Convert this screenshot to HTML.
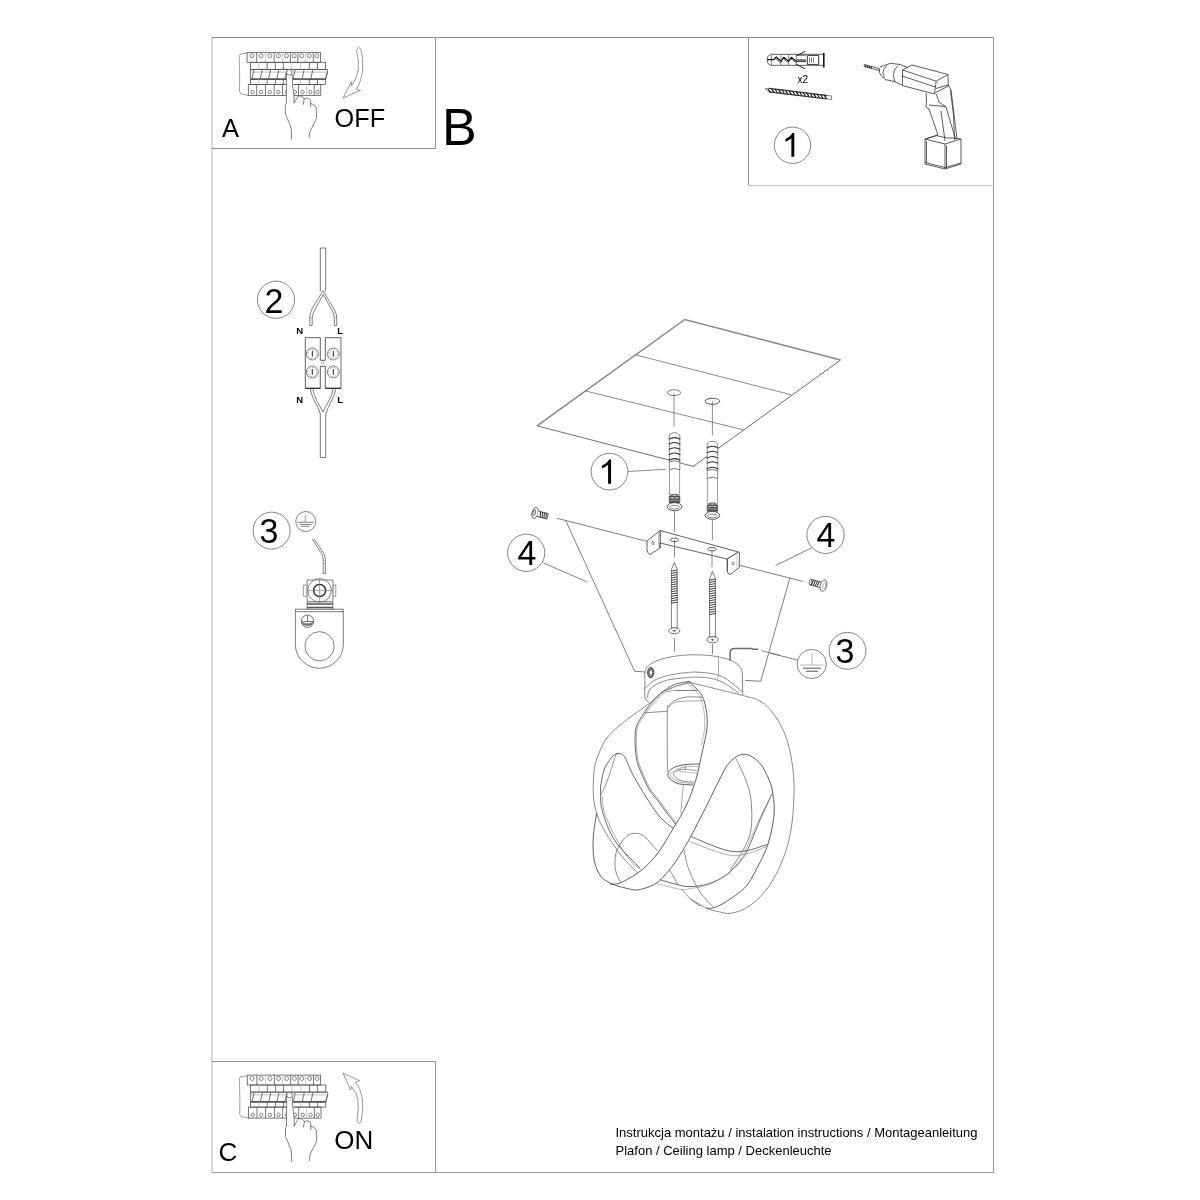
<!DOCTYPE html>
<html><head><meta charset="utf-8">
<style>
html,body{margin:0;padding:0;background:#fff;width:1200px;height:1200px;overflow:hidden}
svg{display:block;position:absolute;left:0;top:0;will-change:transform}
text{font-family:"Liberation Sans",sans-serif;fill:#000}
</style></head><body>
<svg width="1200" height="1200" viewBox="0 0 1200 1200">
<!-- frame -->
<g shape-rendering="crispEdges">
<rect x="211" y="37" width="2" height="1136" fill="#d9d9d9"/>
<rect x="212" y="37" width="782" height="1" fill="#8c8c8c"/>
<rect x="993" y="37" width="1" height="1136" fill="#9a9a9a"/>
<rect x="212" y="1172" width="782" height="1" fill="#9a9a9a"/>
<rect x="212" y="148" width="224" height="1" fill="#8c8c8c"/>
<rect x="435" y="37" width="1" height="112" fill="#9a9a9a"/>
<rect x="748" y="37" width="1" height="149" fill="#8c8c8c"/>
<rect x="748" y="185" width="246" height="1" fill="#c4c4c4"/>
<rect x="212" y="1061" width="224" height="1" fill="#909090"/>
<rect x="435" y="1061" width="1" height="112" fill="#9a9a9a"/>
</g>

<!-- text -->
<text x="222" y="136.7" font-size="25.5">A</text>
<text x="334.6" y="126.7" font-size="26.5" textLength="50.5" lengthAdjust="spacingAndGlyphs">OFF</text>
<text x="442" y="145" font-size="52">B</text>
<text x="218.6" y="1161.4" font-size="26">C</text>
<text x="334.3" y="1149.3" font-size="26">ON</text>
<text x="615.5" y="1137.1" font-size="13">Instrukcja montażu / instalation instructions / Montageanleitung</text>
<text x="615.5" y="1154.6" font-size="13">Plafon / Ceiling lamp / Deckenleuchte</text>
<text x="797.5" y="82.7" font-size="10">x2</text>
<g fill="none" stroke="#777" stroke-width="0.9">
<circle cx="792.5" cy="145.25" r="18.2"/>
<circle cx="609.5" cy="471.6" r="18.4"/>
<circle cx="526.2" cy="552.8" r="18.6"/>
<circle cx="825.5" cy="534.9" r="18.6"/>
<circle cx="847.5" cy="650.8" r="18.4"/>
<circle cx="276" cy="299.7" r="18.6"/>
<circle cx="271.6" cy="530.6" r="18.5"/>
</g>
<path transform="translate(782,156.75) scale(0.033,-0.033)" d="M372,0 L284,0 L284,560 Q252,530 200,500 Q148,470 106,454 L106,539 Q181,574 237,624 Q293,674 316,721 L372,721 Z"/>
<path transform="translate(598.5,483.75) scale(0.0338,-0.0338)" d="M372,0 L284,0 L284,560 Q252,530 200,500 Q148,470 106,454 L106,539 Q181,574 237,624 Q293,674 316,721 L372,721 Z"/>
<g font-size="34">
<text transform="translate(517.6,565) scale(1,1.055)">4</text>
<text transform="translate(816.6,547) scale(1,1.055)">4</text>
<text transform="translate(835.6,663.2) scale(1,1.055)">3</text>
<text transform="translate(264.6,312.5) scale(1,1.055)">2</text>
<text transform="translate(259.5,542.75) scale(1,1.055)">3</text>
</g>

<!-- breaker -->
<g id="brk"><path d="M247,53.2 L240,54.2 L239.2,55.5 L239.7,77 L239.5,91.5 L241,94 L248.3,95.4" stroke="#777" stroke-width="0.7" fill="none"/>
<rect x="247.1" y="52.4" width="73.3" height="9.9" fill="#fff" stroke="#555" stroke-width="0.8"/>
<line x1="256.70" y1="52.40" x2="256.70" y2="62.30" stroke="#555" stroke-width="0.8"/>
<line x1="265.40" y1="52.40" x2="265.40" y2="62.30" stroke="#bbb" stroke-width="0.8"/>
<line x1="274.20" y1="52.40" x2="274.20" y2="62.30" stroke="#555" stroke-width="0.8"/>
<line x1="282.50" y1="52.40" x2="282.50" y2="62.30" stroke="#bbb" stroke-width="0.8"/>
<line x1="290.40" y1="52.40" x2="290.40" y2="62.30" stroke="#555" stroke-width="0.8"/>
<line x1="297.90" y1="52.40" x2="297.90" y2="62.30" stroke="#555" stroke-width="0.8"/>
<line x1="305.40" y1="52.40" x2="305.40" y2="62.30" stroke="#bbb" stroke-width="0.8"/>
<line x1="313.30" y1="52.40" x2="313.30" y2="62.30" stroke="#555" stroke-width="0.8"/>
<circle cx="251.90" cy="55.80" r="2.0" stroke="#555" stroke-width="0.7" fill="none"/>
<circle cx="261.05" cy="55.80" r="2.0" stroke="#555" stroke-width="0.7" fill="none"/>
<circle cx="269.80" cy="55.80" r="2.0" stroke="#555" stroke-width="0.7" fill="none"/>
<circle cx="278.35" cy="55.80" r="2.0" stroke="#555" stroke-width="0.7" fill="none"/>
<circle cx="286.45" cy="55.80" r="2.0" stroke="#555" stroke-width="0.7" fill="none"/>
<circle cx="294.15" cy="55.80" r="2.0" stroke="#555" stroke-width="0.7" fill="none"/>
<circle cx="301.65" cy="55.80" r="2.0" stroke="#555" stroke-width="0.7" fill="none"/>
<circle cx="309.35" cy="55.80" r="2.0" stroke="#555" stroke-width="0.7" fill="none"/>
<circle cx="316.85" cy="55.80" r="2.0" stroke="#555" stroke-width="0.7" fill="none"/>
<rect x="250.4" y="62.3" width="75.2" height="7.1" fill="none" stroke="#555" stroke-width="0.8"/>
<line x1="258.75" y1="62.30" x2="258.75" y2="69.40" stroke="#bbb" stroke-width="0.8"/>
<line x1="267.10" y1="62.30" x2="267.10" y2="69.40" stroke="#555" stroke-width="0.8"/>
<line x1="275.40" y1="62.30" x2="275.40" y2="69.40" stroke="#555" stroke-width="0.8"/>
<line x1="283.30" y1="62.30" x2="283.30" y2="69.40" stroke="#555" stroke-width="0.8"/>
<line x1="291.70" y1="62.30" x2="291.70" y2="69.40" stroke="#bbb" stroke-width="0.8"/>
<line x1="300.60" y1="62.30" x2="300.60" y2="69.40" stroke="#bbb" stroke-width="0.8"/>
<line x1="309.30" y1="62.30" x2="309.30" y2="69.40" stroke="#555" stroke-width="0.8"/>
<line x1="317.50" y1="62.30" x2="317.50" y2="69.40" stroke="#555" stroke-width="0.8"/>
<path d="M250.4,69.4 L327.5,69.4 L327.5,72 L325.6,79.2 L250.4,79.2 Z" stroke="#555" stroke-width="0.8" fill="none"/>
<line x1="251.00" y1="72.10" x2="327.00" y2="72.10" stroke="#ccc" stroke-width="1.2"/>
<line x1="250.40" y1="79.20" x2="325.60" y2="79.20" stroke="#444" stroke-width="1.2"/>
<line x1="253.90" y1="69.80" x2="251.90" y2="78.60" stroke="#555" stroke-width="0.8"/>
<line x1="262.25" y1="69.80" x2="260.25" y2="78.60" stroke="#555" stroke-width="0.8"/>
<line x1="270.60" y1="69.80" x2="268.60" y2="78.60" stroke="#555" stroke-width="0.8"/>
<line x1="278.90" y1="69.80" x2="276.90" y2="78.60" stroke="#555" stroke-width="0.8"/>
<line x1="286.80" y1="69.80" x2="284.80" y2="78.60" stroke="#555" stroke-width="0.8"/>
<line x1="295.20" y1="69.80" x2="293.20" y2="78.60" stroke="#555" stroke-width="0.8"/>
<line x1="304.10" y1="69.80" x2="302.10" y2="78.60" stroke="#555" stroke-width="0.8"/>
<line x1="312.80" y1="69.80" x2="310.80" y2="78.60" stroke="#555" stroke-width="0.8"/>
<line x1="327.50" y1="72.00" x2="325.60" y2="78.60" stroke="#555" stroke-width="0.8"/>
<rect x="250.4" y="79.2" width="75.2" height="5.2" fill="none" stroke="#555" stroke-width="0.8"/>
<line x1="258.75" y1="79.20" x2="258.75" y2="84.40" stroke="#bbb" stroke-width="0.8"/>
<line x1="267.10" y1="79.20" x2="267.10" y2="84.40" stroke="#555" stroke-width="0.8"/>
<line x1="275.40" y1="79.20" x2="275.40" y2="84.40" stroke="#555" stroke-width="0.8"/>
<line x1="283.30" y1="79.20" x2="283.30" y2="84.40" stroke="#555" stroke-width="0.8"/>
<line x1="291.70" y1="79.20" x2="291.70" y2="84.40" stroke="#bbb" stroke-width="0.8"/>
<line x1="300.60" y1="79.20" x2="300.60" y2="84.40" stroke="#bbb" stroke-width="0.8"/>
<line x1="309.30" y1="79.20" x2="309.30" y2="84.40" stroke="#555" stroke-width="0.8"/>
<line x1="317.50" y1="79.20" x2="317.50" y2="84.40" stroke="#555" stroke-width="0.8"/>
<rect x="248.3" y="84.4" width="72.5" height="11" fill="none" stroke="#555" stroke-width="0.8"/>
<line x1="256.70" y1="84.40" x2="256.70" y2="95.40" stroke="#555" stroke-width="0.8"/>
<line x1="265.40" y1="84.40" x2="265.40" y2="95.40" stroke="#555" stroke-width="0.8"/>
<line x1="274.20" y1="84.40" x2="274.20" y2="95.40" stroke="#555" stroke-width="0.8"/>
<line x1="282.50" y1="84.40" x2="282.50" y2="95.40" stroke="#555" stroke-width="0.8"/>
<line x1="291.20" y1="84.40" x2="291.20" y2="95.40" stroke="#bbb" stroke-width="0.8"/>
<line x1="298.50" y1="84.40" x2="298.50" y2="95.40" stroke="#555" stroke-width="0.8"/>
<line x1="306.50" y1="84.40" x2="306.50" y2="95.40" stroke="#bbb" stroke-width="0.8"/>
<line x1="314.20" y1="84.40" x2="314.20" y2="95.40" stroke="#555" stroke-width="0.8"/>
<circle cx="252.50" cy="92.10" r="1.7" stroke="#555" stroke-width="0.7" fill="none"/>
<circle cx="261.05" cy="92.10" r="1.7" stroke="#555" stroke-width="0.7" fill="none"/>
<circle cx="269.80" cy="92.10" r="1.7" stroke="#555" stroke-width="0.7" fill="none"/>
<circle cx="278.35" cy="92.10" r="1.7" stroke="#555" stroke-width="0.7" fill="none"/>
<circle cx="286.85" cy="92.10" r="1.7" stroke="#555" stroke-width="0.7" fill="none"/>
<circle cx="294.85" cy="92.10" r="1.7" stroke="#555" stroke-width="0.7" fill="none"/>
<circle cx="302.50" cy="92.10" r="1.7" stroke="#555" stroke-width="0.7" fill="none"/>
<circle cx="310.35" cy="92.10" r="1.7" stroke="#555" stroke-width="0.7" fill="none"/>
<circle cx="317.50" cy="92.10" r="1.7" stroke="#555" stroke-width="0.7" fill="none"/>
<path d="M286.5,70 L286.3,103.75 L285.3,104.7 L285.3,113.85 Q288,120 290.4,125.8 L291.3,129.4 L291.5,139.5 L309.2,138.2 Q309,135 310.1,131.3 Q311.5,128 314.2,123.5 Q315.5,121 316.5,117.5 Q316.8,112 316,107.4 Q313.8,103.8 310.6,103.5 L310.6,101 Q310.6,99 307.8,98.25 Q306,97.8 304.15,99.2 Q303,95.5 298.2,96 L294,103.3 L293.3,84 L292.5,72 Z" fill="#fff" stroke="none"/>
<circle cx="289.3" cy="72.4" r="2.8" fill="#fff" stroke="#555" stroke-width="0.75"/>
<path d="M286.5,72.5 L286.3,103.75 L285.3,104.7 L285.3,113.85 Q288,120 290.4,125.8 L291.3,129.4 L291.5,139.5" stroke="#555" stroke-width="0.75" fill="none"/>
<path d="M292.2,74 L292.5,84 L294,96 L294,103.3 M294,103.3 L298.2,96 Q303,95.5 304.15,99.2 L303.2,104.7 M304.15,99.2 Q306,97.8 307.8,98.25 Q310.6,99 310.6,101 L310.6,107.4 M310.6,103.5 Q313.8,103.8 316,107.4 Q316.8,112 316.5,117.5 Q315.5,121 314.2,123.5 Q311.5,128 310.1,131.3 Q309,135 309.2,138.2" stroke="#555" stroke-width="0.75" fill="none"/>
<path d="M288.6,77.3 L289.5,78.3 L290.5,77.3" stroke="#888" stroke-width="0.5" fill="none"/></g>
<path d="M358.3,47.6 Q356,49 356.8,52 Q359.2,60 358.2,70 Q357,78 351.6,85.7 L351.3,81.7 L343.1,98 L360.5,90.4 L356.3,89.5 Q361.5,81 362.6,70 Q363.4,58 361,50 Q360,47.3 358.3,47.6 Z" stroke="#777" stroke-width="0.75" fill="none"/>
<use href="#brk" transform="translate(0.2,1022.7)"/>
<path d="M358.8,1123.5 Q356.5,1122.5 357.2,1119 Q359,1108 357.8,1099 Q356.5,1092 351.2,1086.5 L350.6,1090 L343,1073.2 L359.7,1080.7 L355.3,1082.2 Q361,1089 362.3,1099 Q363.5,1110 361.3,1120 Q360.5,1123.3 358.8,1123.5 Z" stroke="#777" stroke-width="0.75" fill="none"/>

<!-- box1 -->
<g fill="none" stroke="#333" stroke-width="0.8" stroke-linejoin="round">
<!-- wall plug -->
<path d="M770.5,54.3 L767.3,56.9 L767.3,62.7 L770.5,65.3 L823.5,65.3 L823.5,54.3 Z" fill="#fff" stroke="#444" stroke-width="0.85"/>
<path d="M771.3,54.3 L771.3,65.3 M781,54.3 L781,65.3 M788.7,54.3 L788.7,65.3 M796.3,54.3 L796.3,65.3" stroke="#666" stroke-width="0.8"/>
<path d="M767.3,59.7 L774,59.7 L776.2,57 L781,61.3 L783.7,57.3 L788.7,61.3 L791.3,57.3 L796.3,61.2 L806,61.2" stroke="#111" stroke-width="1.2"/>
<path d="M775.8,58.6 L780.6,62.8 M783.5,58.8 L788.3,62.8 M791,58.8 L795.8,62.6 M797,59.8 L806,59.8 M797,55.2 L806,55.2" stroke="#333" stroke-width="0.8"/>
<path d="M796,56 L805,51.4 M796,64.2 L805,68.8" stroke="#222" stroke-width="1"/>
<rect x="807.3" y="55.4" width="11.4" height="9" fill="none" stroke="#333" stroke-width="1"/>
<path d="M809.5,57.5 L809.5,62.5 M811.5,57.5 L811.5,62.5 M813.5,57.5 L813.5,62.5" stroke="#444" stroke-width="0.7"/>
<path d="M823.8,53 L823.8,67.5" stroke="#111" stroke-width="1.6"/>
<!-- long screw -->
<path d="M765.2,88.8 L769,88.2 L830,95.8 L831.7,96 L831.5,99.5 L829.5,99.2 L769,91.8 Z" fill="#fff" stroke="#555" stroke-width="0.7"/>
<path d="M768,89.2 L770.5,92.2 M771.5,88.6 L774,92.6 M775,89 L777.5,93 M778.5,89.4 L781,93.4 M782,89.8 L784.5,93.8 M785.5,90.2 L788,94.2 M789,90.6 L791.5,94.6 M792.5,91 L795,95 M796,91.4 L798.5,95.4 M799.5,91.8 L802,95.8 M803,92.2 L805.5,96.2 M806.5,92.6 L809,96.6 M810,93 L812.5,97 M813.5,93.4 L816,97.4 M817,93.8 L819.5,97.8 M820.5,94.2 L823,98.2 M824,94.6 L826.5,98.6" stroke="#111" stroke-width="1.1"/>
<path d="M769,88.4 L827,95.6 M769,92 L827,99" stroke="#222" stroke-width="0.9"/>
</g>
<!-- drill -->
<g fill="none" stroke="#333" stroke-width="0.8" stroke-linejoin="round">
<path d="M879.5,68.75 L864.5,64.5 Q863.5,65.6 864.5,66.75 L879.5,70.5"/>
<path d="M865.5,64.9 L865.5,66.9 M867.5,65.4 L867.5,67.4 M869.5,66 L869.5,68 M871.5,66.5 L871.5,68.5" stroke="#222" stroke-width="1.2"/>
<path d="M880,67 L890.5,63.25 L900,64.5 L907.5,67.25 M879.5,68.75 Q878.8,73 881,75.5 L885,79.5 L894.5,81.5 L902.5,85.5"/>
<path d="M887,65.25 Q882.2,70 883,73 Q883.3,76 884.5,77.5"/>
<path d="M898,65.5 Q893,70 893.5,74.5 Q893.8,79 895,82"/>
</g>
<g transform="translate(860,55) scale(0.1)" fill="none" stroke="#333" stroke-width="8" stroke-linejoin="round">
<path d="M425,150 L520,100 L880,195 L762,262 Z" fill="#fff"/>
<path d="M425,150 L425,306 L745,390 L762,262"/>
<path d="M425,212 L755,320"/>
<path d="M880,195 L883,312 L755,375 M760,335 L883,300"/>
<path d="M660,380 L665,460 L660,520 L690,540 L780,800 L740,815 L655,840"/>
<path d="M885,305 L910,350 L970,840"/>
<path d="M760,385 L790,470 L860,520 L955,840 M690,500 L850,515 M810,560 L850,860 M905,350 L935,600 L945,850"/>
<path d="M650,840 L650,1090 L850,1140 L1010,1090 L1010,840 L850,890 Z" fill="#fff"/>
<path d="M850,890 L850,1140 M650,840 L760,805 M1010,840 L935,830 M665,860 L665,1080 M865,905 L865,1135 M650,1075 L850,1125 L1010,1080"/>
<path d="M760,805 L870,830 L935,830"/>
</g>

<!-- main -->
<path d="M840.6,360 L693.3,466.4 L537,425.8" stroke="#555" stroke-width="0.85" fill="none" />
<path d="M537,425.8 L684.8,319.5 L840.6,360" stroke="#888" stroke-width="1.5" fill="none" />
<path d="M635.2,354.8 L791.3,394.8 M585.6,391 L743.1,429.8" stroke="#666" stroke-width="0.75" fill="none" />
<ellipse cx="674" cy="392.7" rx="6.7" ry="2.9" fill="none" stroke="#555" stroke-width="0.8"/>
<ellipse cx="712.4" cy="401.3" rx="7.3" ry="3" fill="none" stroke="#444" stroke-width="0.9"/>
<path d="M674,392.7 L674,426.7 M712.4,401.3 L712.4,435.3" stroke="#666" stroke-width="0.75" fill="none" />
<path d="M669.3,470 L669.3,435 Q674.5,430 679.8,435 L679.8,470" stroke="#666" stroke-width="0.75" fill="#fff"/>
<path d="M668.8,439.3 Q674.5,435.90000000000003 680.3,439.3" stroke="#333" stroke-width="1.1" fill="none"/>
<path d="M668.8,444.2 Q674.5,440.8 680.3,444.2" stroke="#333" stroke-width="1.1" fill="none"/>
<path d="M668.8,449.45 Q674.5,446.05 680.3,449.45" stroke="#333" stroke-width="1.1" fill="none"/>
<path d="M668.8,454.7 Q674.5,451.3 680.3,454.7" stroke="#333" stroke-width="1.1" fill="none"/>
<path d="M668.8,460.3 Q674.5,456.90000000000003 680.3,460.3" stroke="#333" stroke-width="1.1" fill="none"/>
<path d="M669.3,462 Q674.5,459.5 679.8,462 M669.3,469.8 Q674.5,467 679.8,469.8" stroke="#555" stroke-width="0.8" fill="none"/>
<path d="M669.5,470 L669.5,495 M679.5999999999999,470 L679.5999999999999,495" stroke="#777" stroke-width="0.7" fill="none"/>
<path d="M669.3,502.5 L669.3,497 Q669.8,494.2 674.5,494.2 Q679.3,494.2 679.8,497 L679.8,502.5 Z" stroke="#444" stroke-width="0.8" fill="#8a8a8a"/>
<path d="M669.9,497 Q674.5,495.5 679.1999999999999,497 M669.9,499.5 Q674.5,498 679.1999999999999,499.5 M669.9,502 Q674.5,500.5 679.1999999999999,502" stroke="#222" stroke-width="0.7" fill="none"/>
<ellipse cx="672.2" cy="497.8" rx="1.1" ry="0.6" fill="#eee"/><ellipse cx="676.8" cy="497.8" rx="1.1" ry="0.6" fill="#eee"/><ellipse cx="674.5" cy="495.3" rx="1.2" ry="0.5" fill="#eee"/>
<ellipse cx="674.5" cy="506.7" rx="7.3" ry="4" fill="#fff" stroke="#444" stroke-width="0.9"/>
<ellipse cx="674.5" cy="507.2" rx="5" ry="1.8" fill="none" stroke="#555" stroke-width="0.7"/>
<path d="M707.1999999999999,478.7 L707.1999999999999,443.7 Q712.4,438.7 717.6999999999999,443.7 L717.6999999999999,478.7" stroke="#666" stroke-width="0.75" fill="#fff"/>
<path d="M706.6999999999999,448.0 Q712.4,444.6 718.1999999999999,448.0" stroke="#333" stroke-width="1.1" fill="none"/>
<path d="M706.6999999999999,452.9 Q712.4,449.5 718.1999999999999,452.9" stroke="#333" stroke-width="1.1" fill="none"/>
<path d="M706.6999999999999,458.15 Q712.4,454.75 718.1999999999999,458.15" stroke="#333" stroke-width="1.1" fill="none"/>
<path d="M706.6999999999999,463.4 Q712.4,460.0 718.1999999999999,463.4" stroke="#333" stroke-width="1.1" fill="none"/>
<path d="M706.6999999999999,469.0 Q712.4,465.6 718.1999999999999,469.0" stroke="#333" stroke-width="1.1" fill="none"/>
<path d="M707.1999999999999,470.7 Q712.4,468.2 717.6999999999999,470.7 M707.1999999999999,478.5 Q712.4,475.7 717.6999999999999,478.5" stroke="#555" stroke-width="0.8" fill="none"/>
<path d="M707.4,478.7 L707.4,503.7 M717.4999999999999,478.7 L717.4999999999999,503.7" stroke="#777" stroke-width="0.7" fill="none"/>
<path d="M707.1999999999999,511.2 L707.1999999999999,505.7 Q707.6999999999999,502.9 712.4,502.9 Q717.1999999999999,502.9 717.6999999999999,505.7 L717.6999999999999,511.2 Z" stroke="#444" stroke-width="0.8" fill="#8a8a8a"/>
<path d="M707.8,505.7 Q712.4,504.2 717.0999999999999,505.7 M707.8,508.2 Q712.4,506.7 717.0999999999999,508.2 M707.8,510.7 Q712.4,509.2 717.0999999999999,510.7" stroke="#222" stroke-width="0.7" fill="none"/>
<ellipse cx="710.1" cy="506.5" rx="1.1" ry="0.6" fill="#eee"/><ellipse cx="714.6999999999999" cy="506.5" rx="1.1" ry="0.6" fill="#eee"/><ellipse cx="712.4" cy="504.0" rx="1.2" ry="0.5" fill="#eee"/>
<ellipse cx="712.4" cy="515.4" rx="7.3" ry="4" fill="#fff" stroke="#444" stroke-width="0.9"/>
<ellipse cx="712.4" cy="515.9" rx="5" ry="1.8" fill="none" stroke="#555" stroke-width="0.7"/>
<path d="M674.5,511 L674.5,531.5 M712.4,519.5 L712.4,540" stroke="#666" stroke-width="0.75" fill="none" />
<path d="M628,471.5 L665.5,469.3" stroke="#666" stroke-width="0.75" fill="none" />
<path d="M557,518.3 L646.8,541.3" stroke="#555" stroke-width="0.75" fill="none" />
<path d="M739.6,565.3 L802.9,581.4" stroke="#555" stroke-width="0.75" fill="none" />
<path d="M565.8,520.8 L634.7,671.3 L646.7,672" stroke="#555" stroke-width="0.75" fill="none" />
<path d="M789.8,578.2 L760.7,681.3 L745.3,680.4" stroke="#555" stroke-width="0.75" fill="none" />
<path d="M543.3,562.9 L586.7,581.7" stroke="#555" stroke-width="0.75" fill="none" />
<path d="M811.2,548.1 L775.5,565.6" stroke="#555" stroke-width="0.75" fill="none" />
<path d="M770,653.1 L797.5,660" stroke="#555" stroke-width="0.75" fill="none" />
<circle cx="811.7" cy="664" r="14.6" fill="none" stroke="#666" stroke-width="0.8"/>
<path d="M812,653 L812,665 M799.8,665 L823.6,665" stroke="#bbb" stroke-width="1" fill="none" />
<path d="M803,668.2 L820.9,668.2 M805.8,671.2 L818.1,671.2" stroke="#555" stroke-width="1" fill="none" />
<g transform="translate(535,513) rotate(15)"><ellipse cx="0" cy="0" rx="3" ry="5.6" fill="#fff" stroke="#444" stroke-width="0.8"/><ellipse cx="-0.8" cy="0" rx="1.2" ry="3" fill="none" stroke="#333" stroke-width="0.7"/><path d="M3,-2.8 L13,-2.8 L13,2.8 L3,2.8" fill="#fff" stroke="#444" stroke-width="0.8"/><path d="M5,-2.8 L6,2.8 M7,-2.8 L8,2.8 M9,-2.8 L10,2.8 M11,-2.8 L12,2.8" stroke="#222" stroke-width="0.9"/></g>
<g transform="translate(823.5,585.6) rotate(15)"><path d="M-3,-2.8 L-13.5,-2.8 L-13.5,2.8 L-3,2.8" fill="#fff" stroke="#444" stroke-width="0.8"/><ellipse cx="-13.5" cy="0" rx="1.2" ry="2.8" fill="#fff" stroke="#444" stroke-width="0.7"/><path d="M-5,-2.8 L-6,2.8 M-7,-2.8 L-8,2.8 M-9,-2.8 L-10,2.8 M-11,-2.8 L-12,2.8" stroke="#222" stroke-width="0.9"/><ellipse cx="0" cy="0" rx="3.2" ry="5.8" fill="#fff" stroke="#555" stroke-width="0.8"/><ellipse cx="0.8" cy="0" rx="1.4" ry="3.2" fill="none" stroke="#888" stroke-width="0.6"/></g>
<path d="M660,530.5 L738.5,552 L727,559 L660,543 Z" stroke="#444" stroke-width="0.85" fill="#fff" />
<path d="M647,541 L660,530.5 L660,548 L650,554.5 Q647,553 647,550 Z" stroke="#444" stroke-width="0.85" fill="#fff" />
<path d="M660,543 L660,548" stroke="#444" stroke-width="0.8" fill="none" />
<path d="M727,559 L738.5,552 L739.5,553 L739.2,567.5 L730,574.5 Q727.3,573.5 727.3,571 Z" stroke="#444" stroke-width="0.85" fill="#fff" />
<path d="M727.5,559.2 L727.3,571" stroke="#444" stroke-width="0.8" fill="none" />
<path d="M658.5,532 L658.5,547 M737,553.3 L737,567.5" stroke="#aaa" stroke-width="0.6" fill="none" />
<ellipse cx="674.5" cy="539.8" rx="4.3" ry="1.8" fill="none" stroke="#444" stroke-width="0.8"/>
<ellipse cx="712" cy="549.2" rx="4.3" ry="1.8" fill="none" stroke="#444" stroke-width="0.8"/>
<ellipse cx="653" cy="543" rx="1" ry="1.7" fill="none" stroke="#555" stroke-width="0.7"/>
<ellipse cx="733" cy="563.5" rx="1" ry="1.7" fill="none" stroke="#555" stroke-width="0.7"/>
<path d="M674.5,539.8 L674.5,557.5 M712,549.2 L712,567" stroke="#666" stroke-width="0.75" fill="none" />
<path d="M674.3,562.5 L677.1999999999999,569.5 L677.1999999999999,628 L671.4,628 L671.4,569.5 Z" fill="#fff" stroke="#555" stroke-width="0.75"/>
<path d="M671.0,571.1 L677.5999999999999,569.9 M671.0,573.4 L677.5999999999999,572.2 M671.0,575.7 L677.5999999999999,574.5 M671.0,578.0 L677.5999999999999,576.8 M671.0,580.3 L677.5999999999999,579.1 M671.0,582.6 L677.5999999999999,581.4 M671.0,584.9 L677.5999999999999,583.7 M671.0,587.2 L677.5999999999999,586.0 M671.0,589.5 L677.5999999999999,588.3 M671.0,591.8 L677.5999999999999,590.6 M671.0,594.1 L677.5999999999999,592.9 M671.0,596.4 L677.5999999999999,595.2 M671.0,598.7 L677.5999999999999,597.5 M671.0,601.0 L677.5999999999999,599.8 M671.0,603.3 L677.5999999999999,602.1 " stroke="#333" stroke-width="0.9" fill="none"/>
<ellipse cx="674.3" cy="630.8" rx="5.6" ry="3" fill="#fff" stroke="#555" stroke-width="0.85"/>
<path d="M672.3,630.8 L676.3,630.8 M674.3,629.6 L674.3,632" stroke="#444" stroke-width="0.7"/>
<path d="M712.5,571.5 L715.4,578.5 L715.4,637 L709.6,637 L709.6,578.5 Z" fill="#fff" stroke="#555" stroke-width="0.75"/>
<path d="M709.2,580.1 L715.8,578.9 M709.2,582.4 L715.8,581.2 M709.2,584.7 L715.8,583.5 M709.2,587.0 L715.8,585.8 M709.2,589.3 L715.8,588.1 M709.2,591.6 L715.8,590.4 M709.2,593.9 L715.8,592.7 M709.2,596.2 L715.8,595.0 M709.2,598.5 L715.8,597.3 M709.2,600.8 L715.8,599.6 M709.2,603.1 L715.8,601.9 M709.2,605.4 L715.8,604.2 M709.2,607.7 L715.8,606.5 M709.2,610.0 L715.8,608.8 M709.2,612.3 L715.8,611.1 M709.2,614.6 L715.8,613.4 " stroke="#333" stroke-width="0.9" fill="none"/>
<ellipse cx="712.5" cy="639.8" rx="5.6" ry="3" fill="#fff" stroke="#555" stroke-width="0.85"/>
<path d="M710.5,639.8 L714.5,639.8 M712.5,638.6 L712.5,641" stroke="#444" stroke-width="0.7"/>
<path d="M674.5,638 L674.5,651.5 M712.5,644 L712.5,654" stroke="#666" stroke-width="0.75" fill="none" />
<!-- lamp -->
<path d="M644.8,672 C647,650 740,648 742.3,672 L742.8,695 M644.8,672 L644.8,697 Q645.5,701 649.1,702.4" stroke="#666" stroke-width="0.75" fill="#fff"/>
<path d="M644.5,689.0 C646.2,687.5 650.8,682.3 655.0,680.0 C659.2,677.7 665.0,676.2 670.0,675.0 C675.0,673.8 680.0,673.2 685.0,672.8 C690.0,672.3 693.8,671.7 700.0,672.3 C706.2,672.9 715.0,673.3 722.0,676.5 C729.0,679.7 738.9,689.1 742.3,691.6" stroke="#666" stroke-width="0.75" fill="none"/>
<path d="M647.5,697.5 C647.9,696.1 647.5,691.7 650.0,689.0 C652.5,686.3 657.9,683.2 662.5,681.5 C667.1,679.8 671.2,679.2 677.5,678.5 C683.8,677.8 692.9,676.8 700.0,677.2 C707.1,677.6 713.5,678.3 720.0,681.0 C726.5,683.7 735.8,691.2 739.0,693.2" stroke="#666" stroke-width="0.75" fill="none"/>
<path d="M718.4,655.8 C718.4,659.0 718.8,671.2 718.4,675.3 C718.0,679.4 716.6,679.4 716.3,680.2" stroke="#8a8a8a" stroke-width="0.75" fill="none"/>
<ellipse cx="650.7" cy="672.6" rx="3.1" ry="5.2" fill="#888" stroke="#333" stroke-width="0.9"/>
<ellipse cx="650.9" cy="672.6" rx="1.5" ry="2.8" fill="#fff" stroke="#333" stroke-width="0.6"/>
<path d="M730.1,660.5 L730.1,652.5 Q730.1,648.6 734.5,648.6 L752,648.6 L753,649.3 L758,649.3" stroke="#6a6a6a" stroke-width="1.5" fill="none"/>
<path d="M761.3,650.7 L780.0,655.3" stroke="#666" stroke-width="0.75" fill="none"/>
<path d="M690.0,681.7 C685.8,683.2 671.5,687.3 665.0,690.8 C658.5,694.3 657.8,697.2 650.8,702.5 C643.8,707.8 630.6,716.5 623.3,722.5 C615.9,728.5 610.9,732.9 606.7,738.3 C602.5,743.7 600.4,749.7 598.3,755.0 C596.2,760.3 595.0,763.3 594.2,770.0 C593.4,776.7 592.9,787.8 593.3,795.0 C593.7,802.2 595.1,807.8 596.7,813.3 C598.3,818.8 600.0,822.4 603.0,828.0 C606.0,833.6 611.3,841.7 615.0,847.0 C618.7,852.3 621.2,855.7 625.0,860.0 C628.8,864.3 635.6,870.7 637.7,872.8" stroke="#666" stroke-width="0.75" fill="none"/>
<path d="M690.0,681.2 C687.2,681.9 678.8,682.4 673.3,685.0 C667.8,687.6 661.6,692.1 656.7,696.7 C651.9,701.4 647.5,708.0 644.2,712.9 C640.9,717.8 638.2,721.6 636.7,725.8 C635.2,730.0 635.1,733.4 635.0,738.3 C634.9,743.2 635.4,750.4 636.0,755.0 C636.6,759.6 636.5,760.6 638.5,766.0 C640.5,771.4 645.0,782.0 648.0,787.5 C651.0,793.0 653.5,795.0 656.7,799.2 C659.9,803.5 663.8,808.8 667.0,813.0 C670.2,817.2 674.3,822.3 675.8,824.2" stroke="#444" stroke-width="0.8" fill="none"/>
<path d="M691.0,683.0 C688.2,683.6 680.0,684.3 674.5,686.8 C669.0,689.3 662.8,693.7 658.0,698.2 C653.2,702.7 648.8,709.1 645.5,713.8 C642.2,718.5 639.5,722.2 638.0,726.3 C636.5,730.4 636.4,733.5 636.3,738.3 C636.2,743.1 636.6,750.5 637.2,755.0 C637.8,759.5 637.7,760.2 639.7,765.5 C641.7,770.8 646.2,781.5 649.2,787.0 C652.2,792.5 654.7,794.4 657.8,798.6 C660.9,802.8 664.9,808.1 668.0,812.2 C671.1,816.3 675.1,821.4 676.5,823.3" stroke="#8a8a8a" stroke-width="0.7" fill="none"/>
<path d="M640.0,868.3 C635.8,863.7 621.2,850.2 615.0,840.8 C608.8,831.4 604.9,819.8 602.5,811.7 C600.1,803.7 600.7,797.6 600.5,792.5 C600.3,787.4 600.9,784.8 601.5,781.0 C602.1,777.2 602.9,773.1 604.0,770.0 C605.1,766.9 606.5,764.8 608.0,762.5 C609.5,760.2 611.2,757.5 613.0,756.0 C614.8,754.5 617.0,753.2 619.0,753.5 C621.0,753.8 622.7,753.9 625.0,757.5 C627.3,761.1 629.2,767.9 633.0,775.0 C636.8,782.1 643.5,793.0 648.0,800.0 C652.5,807.0 655.8,812.3 660.0,817.0 C664.2,821.7 671.1,826.4 673.3,828.3" stroke="#444" stroke-width="0.8" fill="none"/>
<path d="M600.5,795.0 C601.2,793.8 602.9,791.2 604.5,787.5 C606.1,783.8 608.1,778.4 610.0,773.0 C611.9,767.6 614.5,758.2 616.0,755.0 C617.5,751.8 618.5,753.8 619.0,753.5" stroke="#666" stroke-width="0.7" fill="none"/>
<path d="M689.2,682.1 C691.3,684.2 698.8,689.8 701.7,695.0 C704.6,700.2 705.9,707.5 706.7,713.3 C707.5,719.1 707.4,723.8 706.7,730.0 C706.0,736.2 704.3,742.5 702.5,750.8 C700.7,759.1 698.5,770.8 695.8,780.0 C693.0,789.2 689.8,798.0 686.0,806.0 C682.2,814.0 677.9,820.5 673.3,828.3 C668.7,836.0 663.6,845.5 658.3,852.5 C653.0,859.5 647.9,865.0 641.7,870.0 C635.5,875.0 626.5,880.1 621.2,882.5 C616.0,884.9 612.0,884.0 610.2,884.3" stroke="#444" stroke-width="0.85" fill="none"/>
<path d="M687.5,683.5 C689.5,685.6 696.7,691.0 699.5,696.0 C702.3,701.0 703.4,707.6 704.2,713.3 C705.0,719.0 704.9,724.7 704.4,730.0 C703.9,735.3 702.0,742.5 701.5,745.0" stroke="#8a8a8a" stroke-width="0.6" fill="none"/>
<path d="M667.4,771.7 C667.4,761.8 667.1,723.0 667.4,712.0 C667.7,701.0 667.7,707.9 669.0,706.0 C670.3,704.1 672.0,702.0 675.0,700.5 C678.0,699.0 682.1,697.5 686.7,697.0 C691.3,696.5 700.0,697.2 702.7,697.2" stroke="#666" stroke-width="0.75" fill="none"/>
<path d="M668.0,707.7 C668.8,707.0 671.0,704.5 673.0,703.5 C675.0,702.5 675.0,702.0 680.0,701.5 C685.0,701.0 699.4,700.8 703.3,700.6" stroke="#8a8a8a" stroke-width="0.75" fill="none"/>
<path d="M674.7,690.4 L697.5,690.4" stroke="#666" stroke-width="0.9" fill="none"/>
<path d="M666.7,691.6 L674.7,690.4" stroke="#8a8a8a" stroke-width="0.7" fill="none"/>
<path d="M644.2,712.9 L667.5,711.2" stroke="#666" stroke-width="0.75" fill="none"/>
<path d="M699.6,763.8 C696.8,764.0 687.4,764.2 682.9,765.0 C678.4,765.8 675.0,766.8 672.5,768.3 C670.0,769.8 668.2,771.9 667.9,773.8 C667.5,775.6 668.6,777.5 670.4,779.2 C672.2,780.9 674.9,782.8 678.8,783.8 C682.6,784.7 690.9,784.8 693.3,785.0" stroke="#444" stroke-width="0.9" fill="none"/>
<path d="M699.0,766.3 C696.5,766.4 688.0,766.5 684.0,767.2 C680.0,767.9 677.2,769.1 675.0,770.3 C672.8,771.5 670.9,772.8 670.6,774.2 C670.3,775.6 671.4,777.2 673.0,778.5 C674.6,779.8 677.1,781.4 680.5,782.2 C683.9,783.0 691.4,783.2 693.6,783.4" stroke="#8a8a8a" stroke-width="0.7" fill="none"/>
<path d="M697.0,770.6 C695.0,770.4 688.3,769.4 685.0,769.4 C681.7,769.4 678.9,770.1 677.0,770.8 C675.1,771.5 673.7,772.6 673.5,773.8 C673.3,775.0 674.6,776.6 676.0,777.8 C677.4,779.0 679.0,780.3 682.0,781.0 C685.0,781.7 692.0,782.0 694.0,782.2" stroke="#666" stroke-width="0.7" fill="none"/>
<path d="M697.0,773.3 C694.7,773.0 686.0,772.2 683.0,771.8 C680.0,771.4 678.9,771.5 678.8,770.8 C678.6,770.1 681.5,768.0 682.0,767.5" stroke="#8a8a8a" stroke-width="0.6" fill="none"/>
<path d="M685.4,765.4 L685.4,769.6" stroke="#666" stroke-width="0.6" fill="none"/>
<path d="M683.3,785.0 L680.8,813.3" stroke="#8a8a8a" stroke-width="0.75" fill="none"/>
<path d="M690.0,682.5 C698.8,684.6 731.0,692.4 742.5,695.4 C754.0,698.4 754.2,698.1 758.8,700.5 C763.3,702.9 766.2,705.2 770.0,709.5 C773.8,713.8 778.1,719.9 781.2,726.0 C784.4,732.1 786.8,738.9 788.8,746.2 C790.7,753.6 792.1,761.9 793.0,770.0 C793.9,778.1 794.3,785.0 794.0,795.0 C793.7,805.0 792.9,819.2 791.0,830.0 C789.1,840.8 786.5,850.4 782.7,860.0 C778.9,869.6 773.5,879.9 768.0,887.5 C762.5,895.1 755.7,901.6 749.6,905.9 C743.5,910.2 736.6,912.3 731.3,913.2 C725.9,914.1 721.6,912.2 717.5,911.4 C713.4,910.6 711.1,910.4 706.5,908.2 C701.9,906.1 692.8,900.1 690.0,898.5" stroke="#666" stroke-width="0.75" fill="none"/>
<path d="M596.7,813.3 C596.1,817.2 593.7,828.9 593.3,836.7 C592.9,844.5 592.8,853.4 594.1,860.0 C595.4,866.6 597.9,872.5 601.0,876.5 C604.1,880.5 608.0,882.1 613.0,884.3 C618.0,886.4 626.7,888.5 631.3,889.4 C635.9,890.2 636.4,890.4 640.5,889.4 C644.6,888.4 651.2,886.6 656.0,883.4 C660.8,880.2 665.2,874.7 669.2,870.0 C673.2,865.3 676.4,860.7 680.0,855.0 C683.6,849.3 686.5,844.3 691.0,836.0 C695.5,827.7 702.3,814.3 707.0,805.0 C711.7,795.7 715.4,787.2 719.2,780.0 C723.0,772.8 725.8,766.3 730.0,762.0 C734.2,757.7 739.3,754.1 744.2,754.2 C749.1,754.3 755.0,758.2 759.2,762.5 C763.4,766.8 766.9,774.6 769.2,780.0 C771.5,785.4 772.2,789.2 773.0,795.0 C773.8,800.8 774.8,806.8 774.0,815.0 C773.2,823.2 771.0,834.8 768.0,844.0 C765.0,853.2 759.8,862.8 756.0,870.0 C752.2,877.2 749.9,882.3 745.0,887.5 C740.1,892.7 731.9,897.9 726.7,901.3 C721.5,904.7 717.3,906.6 713.9,907.7 C710.5,908.9 707.7,908.1 706.5,908.2" stroke="#444" stroke-width="0.85" fill="none"/>
<path d="M735.8,758.3 C737.5,761.9 743.3,773.0 745.8,780.0 C748.3,787.0 750.1,791.7 751.0,800.0 C751.9,808.3 752.3,821.7 751.0,830.0 C749.7,838.3 746.5,843.3 743.0,850.0 C739.5,856.7 732.2,866.7 730.0,870.0" stroke="#666" stroke-width="0.75" fill="none"/>
<path d="M772.0,794.0 C770.0,798.3 764.0,810.8 760.0,820.0 C756.0,829.2 751.1,842.3 748.0,849.0 C744.9,855.7 744.9,855.7 741.4,860.0 C737.9,864.3 732.2,870.7 726.7,874.7 C721.2,878.7 714.4,881.9 708.3,883.9 C702.2,885.9 695.0,886.5 690.0,886.6 C685.0,886.8 683.0,885.9 678.0,884.8 C673.0,883.6 662.8,880.6 659.7,879.7" stroke="#444" stroke-width="0.8" fill="none"/>
<path d="M770.0,797.5 C768.0,801.6 762.1,813.2 758.0,822.0 C753.9,830.8 748.7,843.4 745.5,850.0 C742.3,856.6 742.5,857.2 739.0,861.5 C735.5,865.8 729.9,872.0 724.5,876.0 C719.1,880.0 712.2,883.4 706.5,885.5 C700.8,887.6 694.2,887.8 690.0,888.5 C685.8,889.2 686.8,890.4 681.0,889.5 C675.2,888.6 659.4,884.4 655.1,883.4" stroke="#8a8a8a" stroke-width="0.6" fill="none"/>
<path d="M691.0,836.5 C696.7,838.8 716.0,847.6 725.0,850.0 C734.0,852.4 738.0,851.9 745.0,851.0 C752.0,850.1 763.3,845.6 767.0,844.5" stroke="#444" stroke-width="0.8" fill="none"/>
<path d="M689.5,841.5 C695.9,843.8 717.9,853.1 728.0,855.0 C738.1,856.9 743.5,854.5 750.0,853.0 C756.5,851.5 764.2,847.2 767.0,846.0" stroke="#8a8a8a" stroke-width="0.7" fill="none"/>
<path d="M621.2,882.5 C620.6,881.5 618.5,879.2 617.5,876.5 C616.5,873.8 615.2,869.9 615.0,866.0 C614.8,862.1 615.0,856.8 616.0,853.0 C617.0,849.2 619.0,846.0 621.0,843.0 C623.0,840.0 625.8,836.6 628.3,835.0 C630.8,833.4 633.7,833.4 635.8,833.3 C637.9,833.2 639.3,833.7 641.0,834.5 C642.7,835.3 643.1,835.1 646.0,838.0 C648.9,840.9 656.2,849.4 658.3,851.7" stroke="#666" stroke-width="0.75" fill="none"/>
<path d="M602.2,796.0 C602.5,798.5 602.7,806.0 604.0,811.0 C605.3,816.0 607.8,821.2 610.0,826.0 C612.2,830.8 613.8,834.3 617.0,840.0 C620.2,845.7 625.3,855.0 629.4,860.0 C633.5,865.0 639.4,868.3 641.4,870.0" stroke="#8a8a8a" stroke-width="0.7" fill="none"/>
<path d="M684.0,850.0 C684.8,853.3 686.3,863.0 689.0,870.0 C691.7,877.0 695.9,885.7 700.0,892.0 C704.1,898.3 711.6,905.1 713.9,907.7" stroke="#666" stroke-width="0.75" fill="none"/>
<path d="M681.7,889.4 C683.2,891.1 688.0,896.6 691.0,899.4 C694.0,902.1 698.5,904.8 700.0,905.9" stroke="#666" stroke-width="0.75" fill="none"/>
<path d="M669.8,870.1 L678.0,884.8" stroke="#666" stroke-width="0.75" fill="none"/>
<!-- left2 -->
<g fill="none" stroke-linejoin="round">
<!-- top cable -->
<path d="M320.3,291.5 L320.3,248 L325.7,248 L325.7,291.5" stroke="#555" stroke-width="0.8"/>
<path d="M322.9,291 Q316,302 311.5,310 Q309.6,314 309.8,318 L309.8,325.5 L312.2,325.5 L312.2,318 Q312.4,314 314.3,311 Q319,302 323.2,294.5 Q327.4,302 332.4,311 Q334.3,314 334.3,318 L334.3,325.5 L336.7,325.5 L336.7,318 Q336.6,314 334.6,310 Q330,302 323.2,291" stroke="#555" stroke-width="0.75" fill="#fff"/>
<path d="M309.8,318 L312.2,318 M334.3,318 L336.7,318" stroke="#999" stroke-width="0.6"/>
<!-- block -->
<path d="M305.3,337.7 L320.3,337.7 L320.3,360.3 L325.3,360.3 L325.3,337.7 L341,337.7 L341,388.3 L325.3,388.3 L325.3,366.3 L320.3,366.3 L320.3,388.3 L305.3,388.3 Z" stroke="#444" stroke-width="0.85" fill="#fff"/>
<path d="M305.3,388.3 L320.3,388.3 M325.3,388.3 L341,388.3" stroke="#333" stroke-width="1.3"/>
<path d="M341.3,337.7 L341.3,388.3" stroke="#bbb" stroke-width="1"/>
<circle cx="312.3" cy="354" r="6" stroke="#666" stroke-width="0.8"/>
<circle cx="312.3" cy="354" r="4.6" stroke="#888" stroke-width="0.7" stroke-dasharray="2.2,1.3"/>
<circle cx="333.3" cy="354" r="6" stroke="#666" stroke-width="0.8"/>
<circle cx="333.3" cy="354" r="4.6" stroke="#888" stroke-width="0.7" stroke-dasharray="2.2,1.3"/>
<circle cx="312.3" cy="372" r="6" stroke="#666" stroke-width="0.8"/>
<circle cx="312.3" cy="372" r="4.6" stroke="#888" stroke-width="0.7" stroke-dasharray="2.2,1.3"/>
<circle cx="333.3" cy="372" r="6" stroke="#666" stroke-width="0.8"/>
<circle cx="333.3" cy="372" r="4.6" stroke="#888" stroke-width="0.7" stroke-dasharray="2.2,1.3"/>
<path d="M312.3,351 L312.3,356.8 M333.3,351 L333.3,356.8 M312.3,369 L312.3,374.8 M333.3,369 L333.3,374.8" stroke="#222" stroke-width="1"/>
<path d="M322.7,361.5 L324.2,363 L322.7,364.5 L321.2,363 Z" stroke="#777" stroke-width="0.6"/>
<!-- bottom wires & cable -->
<path d="M310.2,388.5 Q311,394 314,400 Q318.5,408 320.5,414.5 M312.8,388.5 Q313.6,394 316.4,400 Q320.5,407 322.9,412 Q325.3,407 329.4,400 Q332.4,394 333.2,388.5 M335.8,388.5 Q335,394 332,400 Q327.5,408 325.5,414.5" stroke="#555" stroke-width="0.75"/>
<path d="M320.3,414.5 L320.3,457.6 L325.7,457.6 L325.7,414.5" stroke="#555" stroke-width="0.8"/>
</g>
<g font-size="9.5" font-weight="bold" fill="#111">
<text x="296.3" y="334.3" style="font-weight:bold">N</text>
<text x="337.3" y="334.3" style="font-weight:bold">L</text>
<text x="296.3" y="402.5" style="font-weight:bold">N</text>
<text x="337.3" y="402.5" style="font-weight:bold">L</text>
</g>

<!-- left3 -->
<g fill="none" stroke-linejoin="round">
<!-- ground symbol circle -->
<circle cx="305.75" cy="521.5" r="10" stroke="#666" stroke-width="0.8"/>
<path d="M305.3,514.4 L305.3,522.2" stroke="#888" stroke-width="0.8"/>
<path d="M296.9,522.2 L313.75,522.2 M299.4,524.4 L311.6,524.4 M301.25,526.3 L309.4,526.3" stroke="#6a6a6a" stroke-width="0.85"/>
<!-- wire -->
<path d="M312.2,539 L321.5,553.5 Q323.2,556.5 323.2,560 L323.2,573.5 L325.4,573.5 L325.4,560 Q325.4,556 323.5,553 L314.3,539" stroke="#555" stroke-width="0.75"/>
<path d="M323.2,560.5 L325.4,560.5 M323.2,563.5 L325.4,563.5" stroke="#999" stroke-width="0.6"/>
<!-- lug -->
<path d="M295.4,611.7 L295.4,645.8 A24,24 0 0 0 343.3,645.8 L343.3,611.7 Z" stroke="#666" stroke-width="0.85" fill="#fff"/>
<path d="M295.4,609.2 L343.3,609.2 L343.3,611.7 M295.4,609.2 L295.4,611.7" stroke="#555" stroke-width="0.8"/>
<circle cx="319.6" cy="646.25" r="14.6" stroke="#666" stroke-width="0.8"/>
<circle cx="307.5" cy="621.25" r="6.2" stroke="#555" stroke-width="0.8"/>
<path d="M301.5,621.5 L313.5,621.5 M307.5,615.5 L307.5,621.5" stroke="#444" stroke-width="0.7"/>
<path d="M302,622.5 Q307.5,625 313,622.5 L312,624.5 Q307.5,627 303,624.5 Z" fill="#777" stroke="#555" stroke-width="0.5"/>
<!-- dark band -->
<rect x="307.1" y="601.7" width="25.8" height="7.5" fill="#fff" stroke="#666" stroke-width="0.8"/>
<path d="M307.1,604 L332.9,604 M307.1,607.5 L332.9,607.5" stroke="#555" stroke-width="1.4"/>
<!-- top block -->
<rect x="303.3" y="585" width="3.8" height="11.25" fill="#fff" stroke="#777" stroke-width="0.75"/>
<rect x="332.9" y="585" width="2.9" height="11.25" fill="#fff" stroke="#777" stroke-width="0.75"/>
<rect x="307.1" y="580" width="25.8" height="21.7" fill="#fff" stroke="#666" stroke-width="0.8"/>
<circle cx="319.6" cy="590.4" r="11.8" stroke="#666" stroke-width="0.8"/>
<circle cx="319.6" cy="590.4" r="6" stroke="#222" stroke-width="1.4"/>
<path d="M319.6,579.2 L319.6,602.5 M307.5,590.4 L331.7,590.4" stroke="#777" stroke-width="0.7"/>
</g>

</svg>
</body></html>
